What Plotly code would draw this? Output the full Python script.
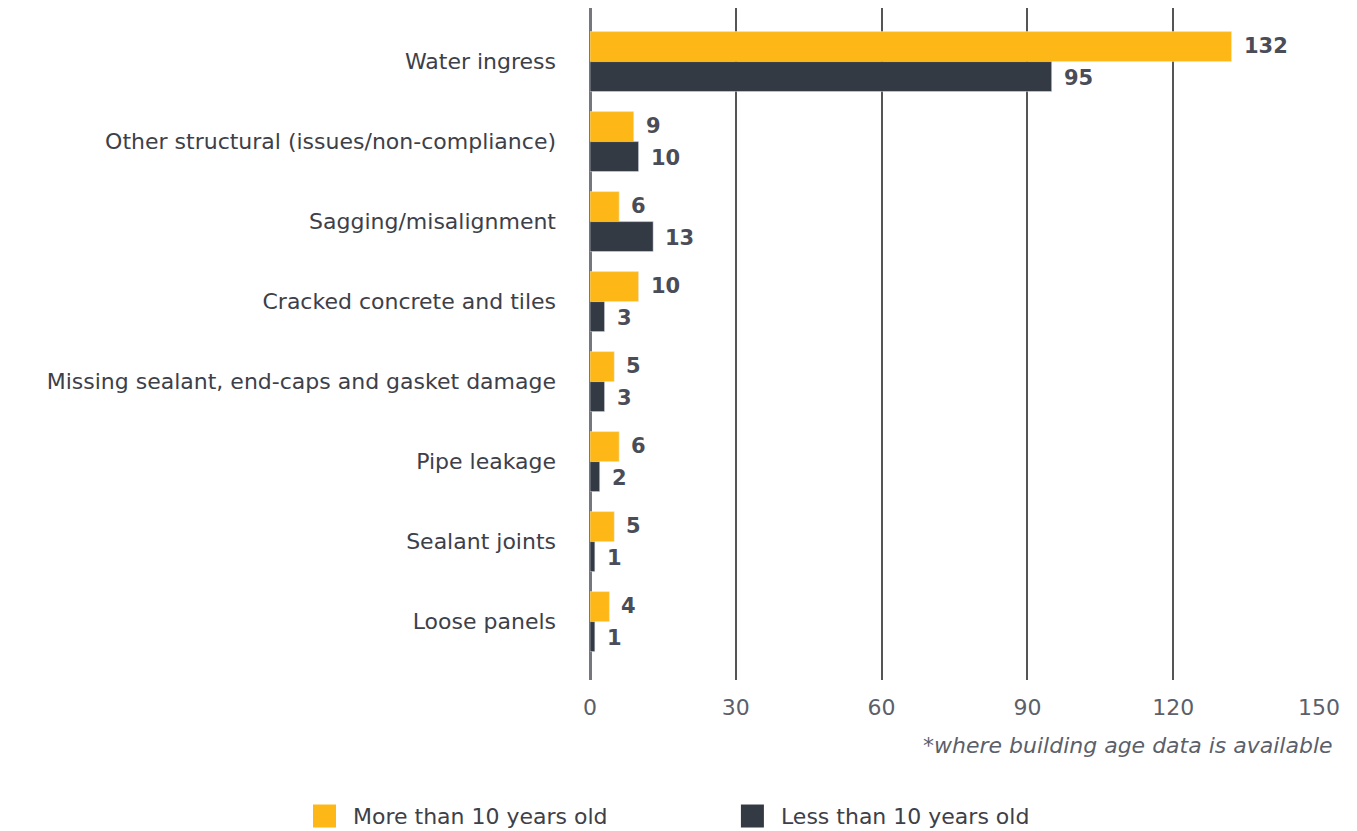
import plotly.graph_objects as go

categories = ["Water ingress", "Other structural (issues/non-compliance)", "Sagging/misalignment",
              "Cracked concrete and tiles", "Missing sealant, end-caps and gasket damage",
              "Pipe leakage", "Sealant joints", "Loose panels"]
more_than_10 = [132, 9, 6, 10, 5, 6, 5, 4]
less_than_10 = [95, 10, 13, 3, 3, 2, 1, 1]
series_names = ["More than 10 years old", "Less than 10 years old"]
x_ticks = [0, 30, 60, 90, 120, 150]

YELLOW = "#FDB817"
DARK = "#343A44"
FONT = "DejaVu Sans"

pos = list(range(len(categories)))

fig = go.Figure()
fig.add_trace(go.Bar(y=pos, x=more_than_10, orientation="h", marker_color=YELLOW,
                     name=series_names[0], showlegend=False, offsetgroup="a"))
fig.add_trace(go.Bar(y=pos, x=less_than_10, orientation="h", marker_color=DARK,
                     name=series_names[1], showlegend=False, offsetgroup="b"))

annotations = []
for i, (a, b) in enumerate(zip(more_than_10, less_than_10)):
    annotations.append(dict(x=a, y=i - 0.1875, text=f"<b>{a}</b>", showarrow=False,
                            xanchor="left", xshift=10, yshift=1,
                            font=dict(family=FONT, size=21, color="#4A4C58")))
    annotations.append(dict(x=b, y=i + 0.1875, text=f"<b>{b}</b>", showarrow=False,
                            xanchor="left", xshift=10, yshift=-1,
                            font=dict(family=FONT, size=21, color="#4A4C58")))

annotations.append(dict(xref="paper", yref="paper", x=1.0225, y=-0.098,
                        text="<i>*where building age data is available</i>", showarrow=False,
                        xanchor="right", yanchor="middle",
                        font=dict(family=FONT, size=22, color="#5B5F6A")))

shapes = []
leg_y = -0.2024
for name, col, x0 in [(series_names[0], YELLOW, -0.380), (series_names[1], DARK, 0.207)]:
    shapes.append(dict(type="rect", xref="paper", yref="paper",
                       x0=x0, x1=x0 + 23 / 729, y0=leg_y - 11.5 / 672, y1=leg_y + 11.5 / 672,
                       fillcolor=col, line=dict(width=0)))
    annotations.append(dict(xref="paper", yref="paper", x=x0 + 38 / 729, y=leg_y,
                            text=name, showarrow=False, xanchor="left", yanchor="middle",
                            font=dict(family=FONT, size=22, color="#3D4048")))

fig.update_layout(
    width=1357, height=831,
    margin=dict(l=590, r=38, t=8, b=151),
    plot_bgcolor="white", paper_bgcolor="white",
    barmode="group", bargap=0.25, bargroupgap=0,
    annotations=annotations, shapes=shapes,
    font=dict(family=FONT, color="#3D4048"),
)
fig.update_xaxes(range=[0, 150], tickvals=x_ticks, showgrid=True, gridcolor="#555555",
                 gridwidth=1.5, zeroline=True, zerolinecolor="#76777C", zerolinewidth=2.5,
                 showline=False, ticks="", ticklabelstandoff=12,
                 tickfont=dict(family=FONT, size=22, color="#5B5F6A"))
fig.update_yaxes(range=[7.73, -0.67], tickvals=pos, ticktext=categories, showgrid=False,
                 zeroline=False, showline=False, ticks="", ticklabelstandoff=33,
                 tickfont=dict(family=FONT, size=22, color="#3D4048"))

fig.write_html("out.html")
